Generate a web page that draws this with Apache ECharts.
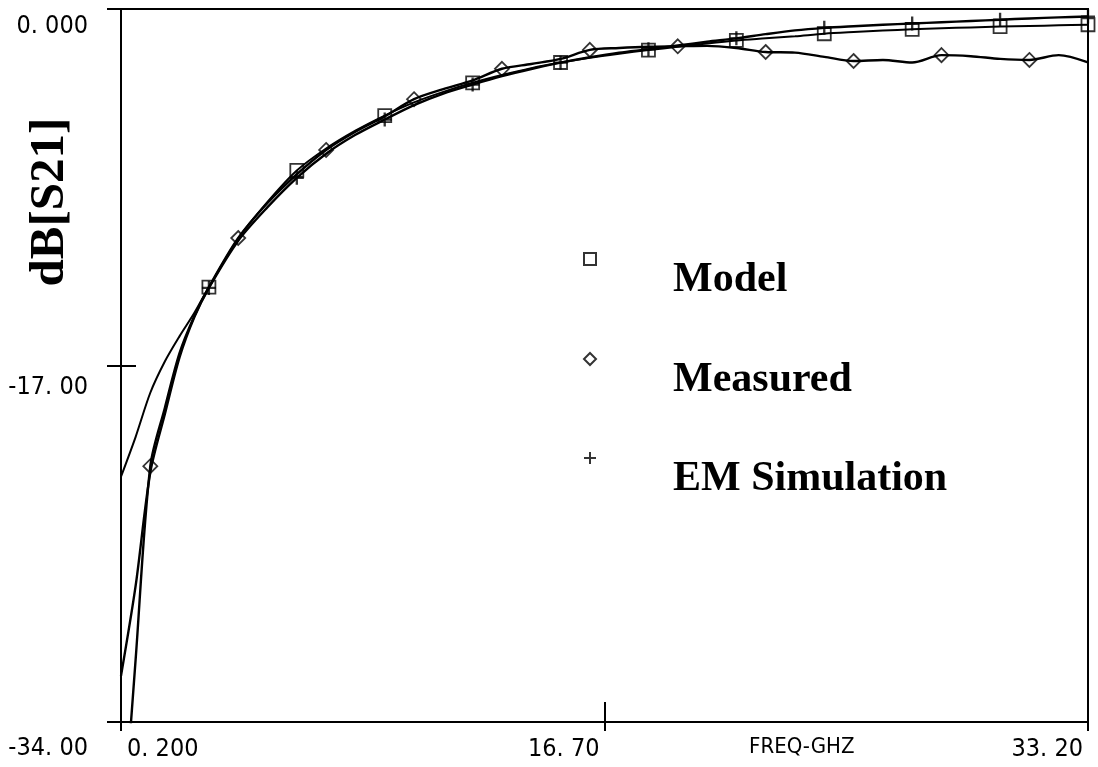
<!DOCTYPE html>
<html>
<head>
<meta charset="utf-8">
<script src="https://cdn.jsdelivr.net/npm/echarts@6/dist/echarts.min.js"></script>
<style>
  html, body { margin: 0; padding: 0; background: #fff; }
  #chart { width: 1098px; height: 767px; }
</style>
</head>
<body>
<div id="chart"></div>
<script>
// Frequency grid (GHz) shared by the three traces
const freqGHz = [0.2, 0.7, 1.2, 1.7, 2.2, 2.7, 3.2, 4.2, 5.2, 6.2, 7.2, 8.2, 9.2, 10.2,
  11.2, 12.2, 13.2, 14.2, 15.2, 16.2, 17.2, 18.2, 19.2, 20.2, 21.2, 22.2, 23.2,
  24.2, 25.2, 26.2, 27.2, 28.2, 29.2, 30.2, 31.2, 32.2, 33.2];

// |S21| in dB
const modelDb = [-22.3, -20.4, -18.3, -16.8, -15.6, -14.5, -13.26, -10.95, -9.2, -7.7,
  -6.65, -5.8, -5.08, -4.45, -3.95, -3.52, -3.15, -2.82, -2.55, -2.32, -2.13, -1.96,
  -1.8, -1.64, -1.5, -1.4, -1.3, -1.18, -1.1, -1.03, -0.97, -0.92, -0.88, -0.84,
  -0.81, -0.78, -0.75];
const emSimDb = [-31.8, -27.5, -22.1, -19.3, -16.6, -14.7, -13.3, -11.05, -9.45, -8.05,
  -6.9, -6.0, -5.27, -4.58, -4.03, -3.6, -3.2, -2.86, -2.56, -2.3, -2.08, -1.92,
  -1.74, -1.56, -1.4, -1.2, -1.02, -0.9, -0.82, -0.75, -0.69, -0.63, -0.57, -0.51,
  -0.45, -0.4, -0.36];
const measuredDb = [-40.5, -31.0, -21.8, -19.0, -16.4, -14.65, -13.26, -10.92, -9.25, -7.88,
  -6.72, -5.85, -5.12, -4.3, -3.82, -3.4, -2.85, -2.62, -2.38, -1.95, -1.86, -1.8,
  -1.78, -1.76, -1.86, -2.05, -2.08, -2.28, -2.48, -2.43, -2.55, -2.2, -2.25, -2.38,
  -2.43, -2.2, -2.55];

// Frequencies that carry a marker symbol
const modelMarkFreqs = [3.2, 6.2, 9.2, 12.2, 15.2, 18.2, 21.2, 24.2, 27.2, 30.2, 33.2];
const emSimMarkFreqs = [3.2, 6.2, 9.2, 12.2, 15.2, 18.2, 21.2, 24.2, 27.2, 30.2, 33.2];
const measuredMarkFreqs = [1.2, 4.2, 7.2, 10.2, 13.2, 16.2, 19.2, 22.2, 25.2, 28.2, 31.2];

// Axis ticks and their printed labels
const xTicks = [0.2, 16.7, 33.2];
const xTickLabels = ['0. 200', '16. 70', '33. 20'];
const yTicks = [-34, -17, 0];
const yTickLabels = ['-34. 00', '-17. 00', '0. 000'];

const seriesNames = ['Model', 'Measured', 'EM Simulation'];
const xAxisTitle = 'FREQ-GHZ';
const yAxisTitle = 'dB[S21]';

const plotFont = '"DejaVu Sans Condensed", "Liberation Sans", sans-serif';
const serifFont = '"Liberation Serif", "DejaVu Serif", serif';
const ink = '#000';
const tickFontSize = 25;

const pairs = (ys) => freqGHz.map((f, i) => [f, ys[i]]);
const marks = (fs, ys) => fs.map(f => [f, ys[freqGHz.indexOf(f)]]);
const tickIndex = (ticks, v) => ticks.findIndex(t => Math.abs(t - v) < 1e-6);

const plusPath = 'path://M5,0L7,0L7,12L5,12Z M0,5L12,5L12,7L0,7Z';

function traceLine(ys, width) {
  return {
    type: 'line', data: pairs(ys), symbol: 'none', smooth: 0.3,
    lineStyle: { color: ink, width: width }, silent: true, z: 2, clip: true
  };
}

const tickText = { fontFamily: plotFont, fontSize: tickFontSize, color: ink };

const chart = echarts.init(document.getElementById('chart'), null, { renderer: 'canvas' });
chart.setOption({
  animation: false,
  backgroundColor: '#fff',
  grid: {
    left: 121, right: 10, top: 9, bottom: 45, show: true, borderColor: ink, borderWidth: 2,
    containLabel: false, outerBoundsMode: 'none'
  },
  xAxis: [{
    type: 'value', min: 0.2, max: 33.2, position: 'bottom',
    axisLine: { show: true, onZero: false, lineStyle: { color: ink, width: 2 } },
    axisTick: { show: true, customValues: xTicks, length: 9, lineStyle: { color: ink, width: 2 } },
    axisLabel: {
      customValues: xTicks, align: 'right', alignMinLabel: 'left',
      margin: 15, color: ink, fontFamily: plotFont, fontSize: tickFontSize,
      formatter: (v) => {
        const k = tickIndex(xTicks, v);
        return (k === 0 ? '{l|' : '{r|') + xTickLabels[k] + '}';
      },
      rich: {
        l: Object.assign({ padding: [0, 0, 0, 6] }, tickText),
        r: Object.assign({ padding: [0, 5, 0, 0] }, tickText)
      }
    },
    splitLine: { show: false }
  }, {
    // short upward tick at mid-band
    type: 'value', min: 0.2, max: 33.2, position: 'top', offset: -713,
    axisLine: { show: false },
    axisTick: { show: true, customValues: [xTicks[1]], length: 20, lineStyle: { color: ink, width: 2 } },
    axisLabel: { show: false },
    splitLine: { show: false }
  }],
  yAxis: [{
    type: 'value', min: -34, max: 0, position: 'left',
    axisLine: { show: true, onZero: false, lineStyle: { color: ink, width: 2 } },
    axisTick: { show: true, customValues: yTicks, length: 14, lineStyle: { color: ink, width: 2 } },
    axisLabel: {
      customValues: yTicks, margin: 33, color: ink, fontFamily: plotFont, fontSize: tickFontSize,
      formatter: (v) => {
        const k = tickIndex(yTicks, v);
        return '{r' + k + '|' + yTickLabels[k] + '}';
      },
      rich: {
        r0: Object.assign({ padding: [52, 0, 0, 0] }, tickText),
        r1: Object.assign({ padding: [44, 0, 0, 0] }, tickText),
        r2: Object.assign({ padding: [34, 0, 0, 0] }, tickText)
      }
    },
    splitLine: { show: false }
  }, {
    type: 'value', min: -34, max: 0, position: 'left',
    axisLine: { show: false },
    axisTick: { show: true, inside: true, customValues: [yTicks[1]], length: 15, lineStyle: { color: ink, width: 2 } },
    axisLabel: { show: false },
    splitLine: { show: false }
  }],
  title: {
    text: xAxisTitle, left: 749, top: 736, padding: 0,
    textStyle: { color: ink, fontFamily: plotFont, fontSize: 22, fontWeight: 'normal' }
  },
  graphic: [{
    type: 'text', x: 50, y: 202, rotation: Math.PI / 2,
    style: {
      text: yAxisTitle, fill: ink, fontFamily: serifFont, fontWeight: 'bold', fontSize: 49,
      align: 'center', verticalAlign: 'middle'
    }
  }],
  legend: {
    data: seriesNames, orient: 'vertical', left: 583, top: 252, padding: 0,
    itemWidth: 12, itemHeight: 12, itemGap: 51, selectedMode: false,
    formatter: (name) => '{t|' + name + '}',
    textStyle: {
      color: ink,
      rich: {
        t: {
          color: ink, fontFamily: serifFont, fontWeight: 'bold', fontSize: 42,
          padding: [42, 0, 0, 72]
        }
      }
    }
  },
  series: [
    traceLine(modelDb, 2.0),
    traceLine(emSimDb, 2.4),
    traceLine(measuredDb, 2.4),
    {
      name: seriesNames[0], type: 'scatter', data: marks(modelMarkFreqs, modelDb),
      symbol: 'rect', symbolSize: 13, z: 3,
      itemStyle: { color: 'transparent', borderColor: ink, borderWidth: 1.8 }
    },
    {
      name: seriesNames[1], type: 'scatter', data: marks(measuredMarkFreqs, measuredDb),
      symbol: 'diamond', symbolSize: 14, z: 3,
      itemStyle: { color: 'transparent', borderColor: ink, borderWidth: 1.8 }
    },
    {
      name: seriesNames[2], type: 'scatter', data: marks(emSimMarkFreqs, emSimDb),
      symbol: plusPath, symbolSize: 14, z: 3,
      itemStyle: { color: ink, borderWidth: 0 }
    }
  ]
});
</script>
</body>
</html>
